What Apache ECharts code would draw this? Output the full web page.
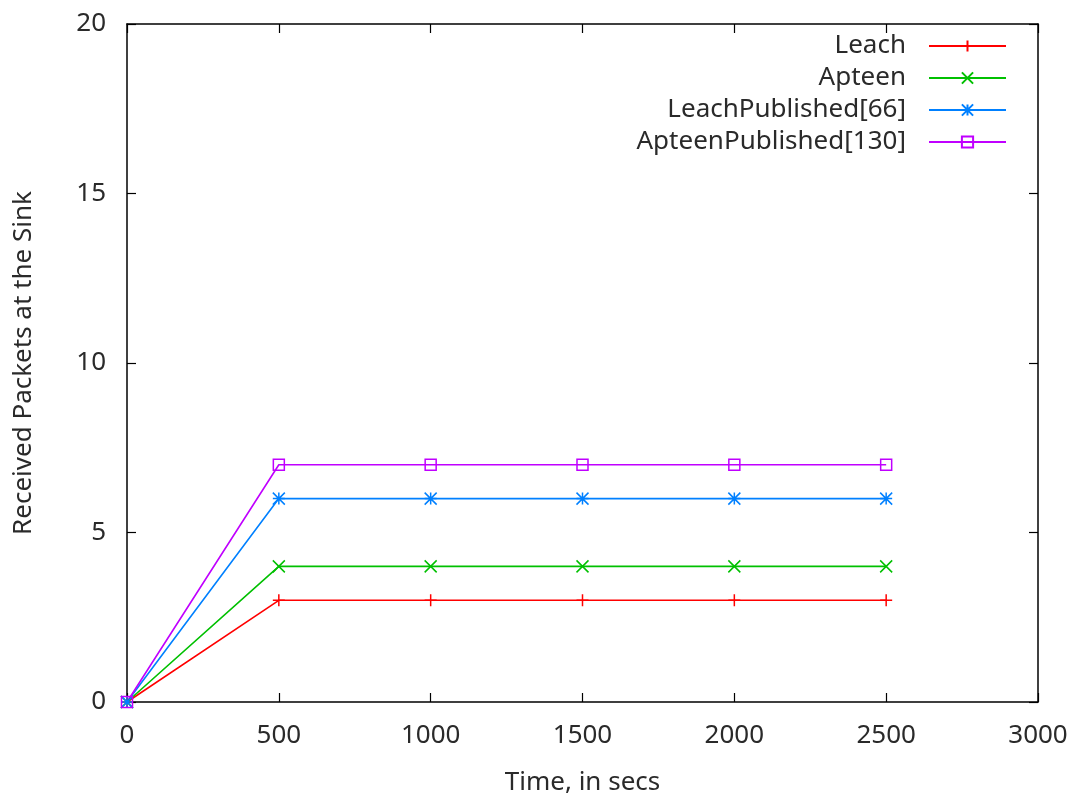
<!DOCTYPE html>
<html>
<head>
<meta charset="utf-8">
<script src="https://cdn.jsdelivr.net/npm/echarts@6/dist/echarts.min.js"></script>
<style>html,body{margin:0;padding:0;background:#fff}#c{width:1070px;height:795px}</style>
</head>
<body>
<div id="c"></div>
<script>
var times = [0, 500, 1000, 1500, 2000, 2500];
var leach = [0, 3, 3, 3, 3, 3];
var apteen = [0, 4, 4, 4, 4, 4];
var leachPublished = [0, 6, 6, 6, 6, 6];
var apteenPublished = [0, 7, 7, 7, 7, 7];
var seriesNames = ['Leach', 'Apteen', 'LeachPublished[66]', 'ApteenPublished[130]'];
var xTitle = 'Time, in secs';
var yTitle = 'Received Packets at the Sink';

var FONT = 'Noto Sans';
var FS = 26;
var TXT = '#2a2a2a';

function pairs(ys) { return times.map(function (t, i) { return [t, ys[i]]; }); }

var symbols = {
  plus: 'path://M0,-1V1M-1,0H1',
  cross: 'path://M-1,-1L1,1M-1,1L1,-1',
  star: 'path://M0,-1V1M-1,0H1M-1,-1L1,1M-1,1L1,-1',
  square: 'path://M-1,-1H1V1H-1Z'
};

function mk(name, ys, color, sym, size) {
  return {
    name: name, type: 'line', data: pairs(ys),
    symbol: sym, symbolSize: size, showSymbol: true,
    color: color,
    lineStyle: { color: color, width: 1.6 },
    itemStyle: { color: 'rgba(0,0,0,0)', borderColor: color, borderWidth: 1.5 },
    emphasis: { disabled: true },
    animation: false
  };
}

function axisCommon() {
  return {
    axisLine: { show: true, onZero: false, lineStyle: { color: '#000', width: 1.5 } },
    axisTick: { show: true, inside: true, length: 9, lineStyle: { color: '#000', width: 1.2 } },
    splitLine: { show: false }
  };
}

var chart = echarts.init(document.getElementById('c'));
chart.setOption({
  animation: false,
  backgroundColor: '#fff',
  grid: { left: 127, right: 32, top: 24, bottom: 93, containLabel: false, outerBoundsMode: 'none' },
  legend: {
    orient: 'vertical', align: 'right', right: 58, top: 25,
    itemWidth: 77, itemHeight: 14, itemGap: 0,
    textStyle: { fontFamily: FONT, fontSize: FS, color: TXT, padding: [0, 18, 0, 0], lineHeight: 32 },
    data: seriesNames
  },
  xAxis: [
    Object.assign(axisCommon(), {
      type: 'value', min: 0, max: 3000, interval: 500, position: 'bottom',
      name: xTitle, nameLocation: 'middle', nameGap: 68,
      nameTextStyle: { fontFamily: FONT, fontSize: FS, color: TXT },
      axisLabel: { fontFamily: FONT, fontSize: FS, color: TXT, margin: 21, formatter: function (v) { return String(v); } }
    }),
    Object.assign(axisCommon(), {
      type: 'value', min: 0, max: 3000, interval: 500, position: 'top',
      axisLabel: { show: false }
    })
  ],
  yAxis: [
    Object.assign(axisCommon(), {
      type: 'value', min: 0, max: 20, interval: 5, position: 'left',
      name: yTitle, nameLocation: 'middle', nameGap: 90,
      nameTextStyle: { fontFamily: FONT, fontSize: FS, color: TXT },
      axisLabel: { fontFamily: FONT, fontSize: FS, color: TXT, margin: 21, formatter: function (v) { return String(v); } }
    }),
    Object.assign(axisCommon(), {
      type: 'value', min: 0, max: 20, interval: 5, position: 'right',
      axisLabel: { show: false }
    })
  ],
  series: [
    mk(seriesNames[0], leach, '#ff0000', symbols.plus, 12),
    mk(seriesNames[1], apteen, '#00c000', symbols.cross, 12),
    mk(seriesNames[2], leachPublished, '#0080ff', symbols.star, 12),
    mk(seriesNames[3], apteenPublished, '#c000ff', symbols.square, 11)
  ]
});
</script>
</body>
</html>
